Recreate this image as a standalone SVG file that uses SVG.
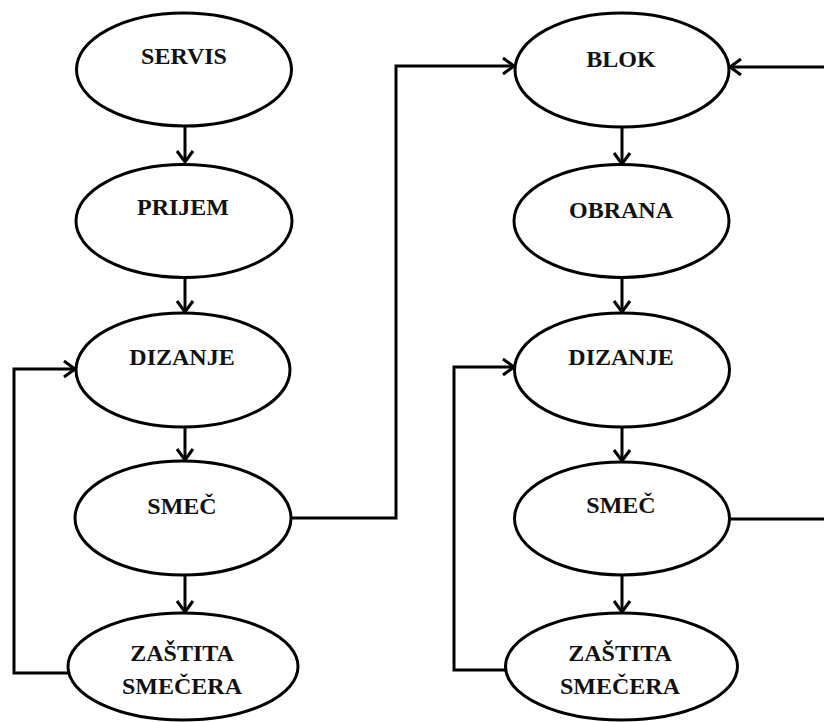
<svg xmlns="http://www.w3.org/2000/svg" width="824" height="722" viewBox="0 0 824 722">
<defs>
<style>
.n ellipse{fill:#fff;stroke:#000;stroke-width:3}
.n text{font-family:"Liberation Serif","Times New Roman",serif;font-weight:bold;font-size:24px;fill:#111;text-anchor:middle}
.c path{fill:none;stroke:#000;stroke-width:3}
</style>
<marker id="a" markerUnits="userSpaceOnUse" markerWidth="20" markerHeight="20" refX="12" refY="8" orient="auto" overflow="visible">
<path d="M1,0 L12,8 L1,16" fill="none" stroke="#000" stroke-width="3"/>
</marker>
</defs>
<rect width="824" height="722" fill="#fff"/>
<g class="c">
<path d="M185,126 V162" marker-end="url(#a)"/>
<path d="M185,278 V312" marker-end="url(#a)"/>
<path d="M185,427 V460" marker-end="url(#a)"/>
<path d="M185,575 V612" marker-end="url(#a)"/>
<path d="M68,673 H14 V369 H75" marker-end="url(#a)"/>
<path d="M292,518 H396 V66 H514" marker-end="url(#a)"/>
<path d="M824,67 H730" marker-end="url(#a)"/>
<path d="M622,127 V164" marker-end="url(#a)"/>
<path d="M622,278 V312" marker-end="url(#a)"/>
<path d="M622,427 V461" marker-end="url(#a)"/>
<path d="M622,575 V612" marker-end="url(#a)"/>
<path d="M506,670 H454 V367 H514" marker-end="url(#a)"/>
<path d="M729,519 H824"/>
</g>
<g id="servis" class="n"><ellipse cx="184" cy="69.5" rx="107.5" ry="56.5"/><text x="184" y="64">SERVIS</text></g>
<g id="prijem" class="n"><ellipse cx="184" cy="221" rx="108" ry="56.5"/><text x="183" y="215">PRIJEM</text></g>
<g id="dizanje1" class="n"><ellipse cx="183" cy="370" rx="107" ry="57"/><text x="182" y="365">DIZANJE</text></g>
<g id="smec1" class="n"><ellipse cx="183" cy="518" rx="108" ry="57"/><text x="182" y="514">SMEČ</text></g>
<g id="zastita1" class="n"><ellipse cx="183" cy="666.5" rx="115" ry="53.5"/><text x="182" y="661">ZAŠTITA</text><text x="182" y="694">SMEČERA</text></g>
<g id="blok" class="n"><ellipse cx="622" cy="70" rx="107" ry="57"/><text x="621" y="67">BLOK</text></g>
<g id="obrana" class="n"><ellipse cx="621.5" cy="221" rx="107.5" ry="56.5"/><text x="621" y="218">OBRANA</text></g>
<g id="dizanje2" class="n"><ellipse cx="622" cy="370" rx="107.5" ry="57"/><text x="621" y="365">DIZANJE</text></g>
<g id="smec2" class="n"><ellipse cx="622" cy="518.5" rx="107.5" ry="56.5"/><text x="621" y="513">SMEČ</text></g>
<g id="zastita2" class="n"><ellipse cx="621.5" cy="666.5" rx="116" ry="53.5"/><text x="620" y="661">ZAŠTITA</text><text x="620" y="694">SMEČERA</text></g>
</svg>
